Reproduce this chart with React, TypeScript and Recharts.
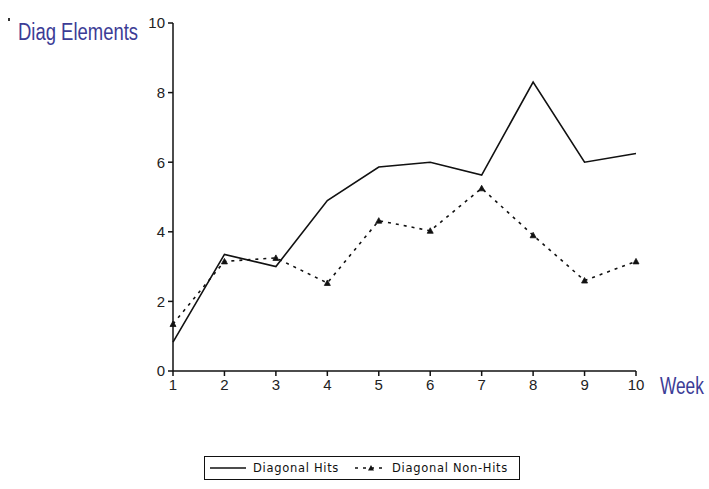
import { LineChart, Line, XAxis, YAxis } from 'recharts';

const weeks = [1, 2, 3, 4, 5, 6, 7, 8, 9, 10];
const hits = [0.83, 3.35, 3.0, 4.9, 5.86, 6.0, 5.63, 8.3, 6.0, 6.25];
const nonHits = [1.35, 3.15, 3.25, 2.53, 4.32, 4.03, 5.25, 3.9, 2.6, 3.15];
const yTicks = [0, 2, 4, 6, 8, 10];
const seriesNames = ['Diagonal Hits', 'Diagonal Non-Hits'];
const xTitle = 'Week';
const yTitle = 'Diag Elements';

const data = weeks.map((w, i) => ({ week: w, hits: hits[i], nonHits: nonHits[i] }));

const titleFont = '"Liberation Sans", Arial, sans-serif';
const tickStyle = { fontFamily: '"Liberation Sans", Arial, sans-serif', fontSize: 15, fill: '#222' };

// little triangle marker, like the original
const TriangleDot = (props: any) => {
  const { cx, cy } = props;
  if (cx == null || cy == null) return null;
  return <path d={`M${cx - 3},${cy + 2.5} L${cx},${cy - 3} L${cx + 3},${cy + 2.5} Z`} fill="#111" stroke="#111" strokeWidth={0.8} />;
};

// condensed look: squeeze the text horizontally
const YTitle = (props: any) => {
  const { viewBox } = props;
  return (
    <text
      transform={`translate(${viewBox.x + 18},${viewBox.y + 17}) scale(0.77,1)`}
      fill="#3c3c96"
      fontFamily={titleFont}
      fontSize={24}
    >
      {yTitle}
    </text>
  );
};

const XTitle = (props: any) => {
  const { viewBox } = props;
  return (
    <text
      transform={`translate(${viewBox.x + viewBox.width + 24},${viewBox.y + 23}) scale(0.72,1)`}
      fill="#3c3c96"
      fontFamily={titleFont}
      fontSize={24}
    >
      {xTitle}
    </text>
  );
};

export default function App() {
  return (
    <div style={{ position: 'absolute', left: 0, top: 0, width: 709, height: 489, background: '#fff' }}>
      <LineChart width={709} height={489} data={data} margin={{ top: 23, right: 73, bottom: 88, left: 0 }}>
        <XAxis
          dataKey="week"
          type="number"
          domain={[1, 10]}
          ticks={weeks}
          height={30}
          tick={tickStyle}
          tickSize={5}
          tickMargin={3}
          stroke="#111"
          strokeWidth={1.5}
          label={<XTitle />}
        />
        <YAxis
          domain={[0, 10]}
          ticks={yTicks}
          width={173}
          tick={tickStyle}
          tickSize={5}
          tickMargin={3}
          stroke="#111"
          strokeWidth={1.5}
          label={<YTitle />}
        />
        <Line
          type="linear"
          dataKey="hits"
          name={seriesNames[0]}
          stroke="#111"
          strokeWidth={1.6}
          dot={false}
          isAnimationActive={false}
        />
        <Line
          type="linear"
          dataKey="nonHits"
          name={seriesNames[1]}
          stroke="#111"
          strokeWidth={1.6}
          strokeDasharray="3 5"
          dot={<TriangleDot />}
          isAnimationActive={false}
        />
      </LineChart>
      <div style={{ position: 'absolute', left: 8, top: 18, width: 2, height: 3, background: '#333' }} />
      <div
        style={{
          position: 'absolute',
          left: 204,
          top: 456,
          width: 316,
          height: 24,
          border: '1.5px solid #111',
          boxSizing: 'border-box',
          display: 'flex',
          alignItems: 'center',
          whiteSpace: 'nowrap',
          fontFamily: '"DejaVu Sans", Verdana, sans-serif',
          fontSize: 11.5,
          letterSpacing: '0.7px',
          color: '#111',
        }}
      >
        <svg width={38} height={10} style={{ marginLeft: 5, flexShrink: 0 }}>
          <line x1={0} y1={5} x2={36} y2={5} stroke="#111" strokeWidth={1.5} />
        </svg>
        <span style={{ marginLeft: 5 }}>{seriesNames[0]}</span>
        <svg width={36} height={10} style={{ marginLeft: 14, flexShrink: 0 }}>
          <line x1={2} y1={5} x2={34} y2={5} stroke="#111" strokeWidth={1.5} strokeDasharray="3 5" />
          <path d="M15,7.5 L18,2 L21,7.5 Z" fill="#111" />
        </svg>
        <span style={{ marginLeft: 3 }}>{seriesNames[1]}</span>
      </div>
    </div>
  );
}
